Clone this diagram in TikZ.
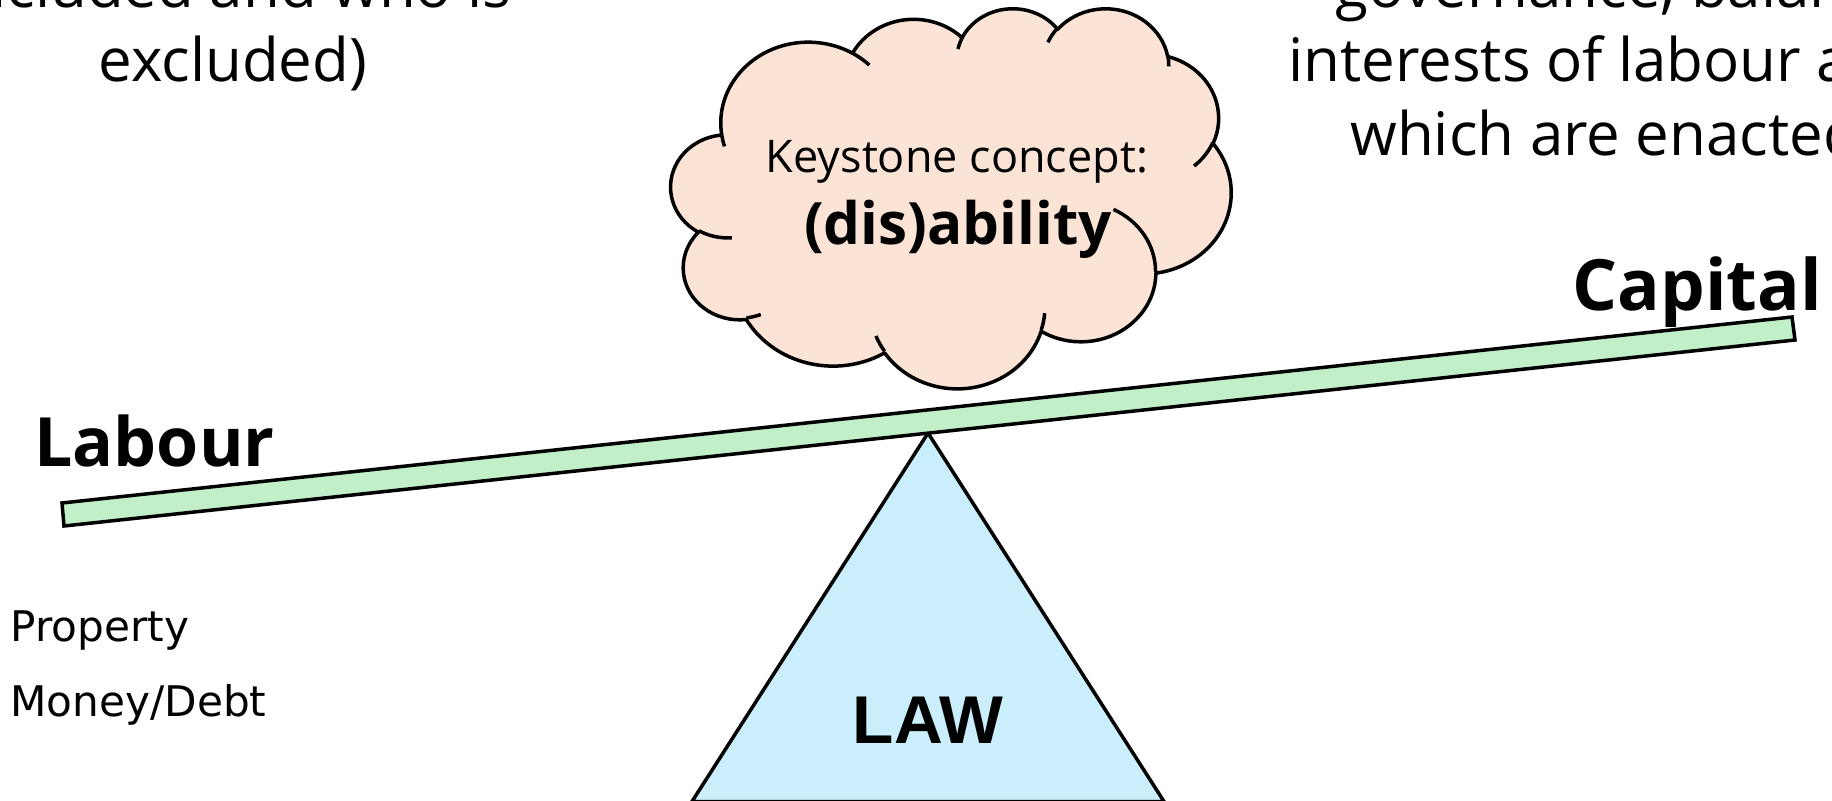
\documentclass[tikz,border=0pt]{standalone}
\usepackage{fontspec}
\setmainfont{Open Sans}
\newfontfamily\lawfont{Liberation Sans}
\newfontfamily\listfont{DejaVu Sans}
\definecolor{cloudfill}{HTML}{FBE3D6}
\definecolor{beamfill}{HTML}{C1F0C8}
\definecolor{lawfill}{HTML}{CAEEFB}
% arc helper: DrawingML visual angles -> parametric angles
\newcommand\prepArc[5]{%
  \pgfmathsetmacro\tmpS{atan2((#2)*sin(#4),(#3)*cos(#4))}%
  \pgfmathsetmacro\tmpE{atan2((#2)*sin((#4)+(#5)),(#3)*cos((#4)+(#5)))}%
  \pgfmathsetmacro\tmpE{\tmpE<\tmpS ? \tmpE+360 : \tmpE}%
  \edef\tmpDo{\noexpand\tikzset{#1/.style={x radius=#2, y radius=#3, start angle=\tmpS, end angle=\tmpE}}}%
  \tmpDo}
\begin{document}
\begin{tikzpicture}[x=0.5pt,y=-0.5pt,
  outline/.style={draw=black, line width=1.75pt},
  toptext/.style={font=\fontsize{30}{37.5}\selectfont, inner sep=0pt},
  sidelabel/.style={font=\fontsize{34}{40}\selectfont\bfseries, inner sep=0pt},
  keytext/.style={font=\fontsize{22.5}{27}\selectfont, inner sep=0pt},
  keybold/.style={font=\fontsize{29.2}{34}\selectfont\bfseries, inner sep=0pt},
  listtext/.style={font=\listfont\fontsize{21.1}{25}\selectfont, inner sep=0pt},
  lawtext/.style={font=\lawfont\fontsize{33.8}{40}\selectfont\bfseries, inner sep=0pt}]
\useasboundingbox (0,0) rectangle (1832,801);
\clip (0,0) rectangle (1832,801);
% fulcrum
\coordinate (apex) at (928,433);
\coordinate (bl) at (692,801.5);
\coordinate (br) at (1164,801.5);
\draw[outline, fill=lawfill, line join=miter] (apex) -- (br) -- (bl) -- cycle;
% beam
\coordinate (b1) at (62,503);
\coordinate (b2) at (1792,317);
\coordinate (b3) at (1795,340);
\coordinate (b4) at (64,526);
\draw[outline, fill=beamfill, line join=miter] (b1) -- (b2) -- (b3) -- (b4) -- cycle;
% cloud
\begin{scope}[shift={(671,7.5)}, x=0.64815pt, y=-0.43981pt]
  \prepArc{ca1}{67.53}{91.90}{-190.4875}{123.7805}
  \prepArc{ca2}{53.33}{72.67}{-144.1024}{89.9452}
  \prepArc{ca3}{43.65}{59.45}{-145.8079}{99.7230}
  \prepArc{ca4}{48.57}{65.95}{-130.9861}{117.2417}
  \prepArc{ca5}{53.33}{72.73}{-78.7089}{109.0269}
  \prepArc{ca6}{67.75}{92.20}{-46.2673}{130.2690}
  \prepArc{ca7}{57.85}{78.67}{0.6250}{114.0333}
  \prepArc{ca8}{67.52}{92.15}{22.4516}{115.1726}
  \prepArc{ca9}{77.20}{105.43}{66.2426}{75.7110}
  \prepArc{ca10}{43.60}{59.18}{-274.9421}{146.7356}
  \prepArc{ca11}{43.45}{59.45}{-246.8285}{152.5189}
  \prepArc{ci1}{43.45}{59.45}{86.7420}{26.4295}
  \prepArc{ci2}{43.60}{59.18}{73.6105}{11.4475}
  \prepArc{ci3}{67.52}{92.15}{137.6242}{14.0811}
  \prepArc{ci4}{67.52}{92.15}{6.4533}{15.9984}
  \prepArc{ci5}{57.85}{78.67}{-70.2924}{70.9174}
  \prepArc{ci6}{53.33}{72.73}{30.3180}{27.7515}
  \prepArc{ci7}{48.57}{65.95}{-13.7443}{14.8589}
  \prepArc{ci8}{48.57}{65.95}{-149.1815}{18.1954}
  \prepArc{ci9}{43.65}{59.45}{-163.4943}{17.6864}
  \prepArc{ci10}{67.53}{91.90}{-66.7070}{12.3194}
  \prepArc{ci11}{67.53}{91.90}{157.6544}{11.8582}
  \draw[outline, fill=cloudfill, line join=round] (39.00,143.70) arc[ca1] arc[ca2] arc[ca3] arc[ca4]
    arc[ca5] arc[ca6] arc[ca7] arc[ca8] arc[ca9] arc[ca10] arc[ca11] -- cycle;
  \draw[outline] (46.93,261.77) arc[ci1] (69.28,348.99) arc[ci2]
    (164.78,390.90) arc[ci3] (288.27,347.51) arc[ci4] (341.29,229.54) arc[ci5]
    (417.98,153.54) arc[ci6] (383.24,54.26) arc[ci7] (290.78,39.52) arc[ci8]
    (221.41,47.20) arc[ci9] (140.00,51.92) arc[ci10] (41.27,157.89) arc[ci11];
\end{scope}
% texts
\node[toptext, anchor=base] (tl1) at (233,8) {included and who is};
\node[toptext, anchor=base] (tl2) at (233,82) {excluded)};
\node[toptext, anchor=base west] (tr1) at (1335,8) {governance, balan};
\node[toptext, anchor=base west] (tr2) at (1288,82) {interests of labour a};
\node[toptext, anchor=base west] (tr3) at (1350,156) {which are enacted};
\node[sidelabel, anchor=base west] (labour) at (34,467) {Labour};
\node[sidelabel, anchor=base west, font=\fontsize{35.4}{40}\selectfont\bfseries] (capital) at (1572,311) {Capital};
\node[keytext, anchor=base] (key) at (957,173) {Keystone concept:};
\node[keybold, anchor=base] (dis) at (958,245) {(dis)ability};
\node[listtext, anchor=base west] (prop) at (10,642) {Property};
\node[listtext, anchor=base west] (money) at (10,717) {Money/Debt};
\node[lawtext, anchor=base] (law) at (928,744) {LAW};
\end{tikzpicture}
\end{document}
